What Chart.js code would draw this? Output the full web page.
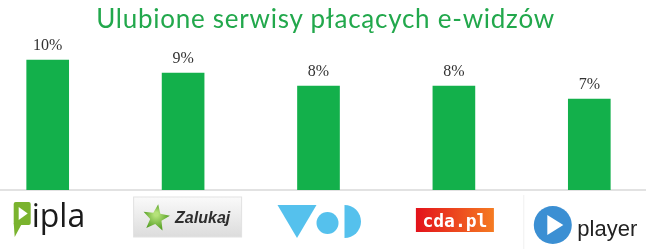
<!DOCTYPE html>
<html>
<head>
<meta charset="utf-8">
<script src="https://cdn.jsdelivr.net/npm/chart.js@4"></script>
<style>
  html, body { margin: 0; padding: 0; background: #fff; overflow: hidden; }
  body { width: 646px; height: 249px; position: relative; }
  #title { position: absolute; left: 0; top: 5px; width: 651px; text-align: center;
           font: 26px/26px Lato, sans-serif; letter-spacing: 0.75px; color: #22a84c; z-index: 2; }
  #wrap { position: absolute; left: -20px; top: 0; width: 677px; height: 249px; }
</style>
</head>
<body>
<div id="title">Ulubione serwisy płacących e-widzów</div>
<div id="wrap"><canvas id="chart"></canvas></div>
<script>
// dane z wykresu
const services = ['ipla', 'Zalukaj', 'VOD', 'cda.pl', 'player'];
const shares = [10, 9, 8, 8, 7];

// etykiety nad słupkami
const valueLabels = {
  id: 'valueLabels',
  afterDatasetsDraw(chart) {
    const ctx = chart.ctx;
    ctx.save();
    ctx.font = '16px "Liberation Serif", serif';
    ctx.fillStyle = '#333';
    ctx.textAlign = 'center';
    ctx.textBaseline = 'alphabetic';
    chart.getDatasetMeta(0).data.forEach((bar, i) => {
      ctx.fillText(shares[i] + '%', bar.x, bar.y - 10);
    });
    ctx.restore();
  }
};

function star(ctx, cx, cy, ro, ri) {
  ctx.beginPath();
  for (let k = 0; k < 10; k++) {
    const r = k % 2 ? ri : ro;
    const a = -Math.PI / 2 + 0.15 + k * Math.PI / 5;
    ctx.lineTo(cx + r * Math.cos(a), cy + r * Math.sin(a));
  }
  ctx.closePath();
}

// logotypy serwisów pod osią
const logos = {
  id: 'logos',
  afterDraw(chart) {
    const ctx = chart.ctx;
    const xs = chart.scales.x;
    ctx.save();
    services.forEach((name, i) => {
      const x = xs.getPixelForValue(i);
      if (name === 'ipla') {
        ctx.fillStyle = '#7ab32e';
        ctx.beginPath();
        ctx.roundRect(x - 34, 202, 17, 23, 2);
        ctx.fill();
        ctx.beginPath();
        ctx.moveTo(x - 34, 223); ctx.lineTo(x - 33, 237); ctx.lineTo(x - 26, 224);
        ctx.fill();
        ctx.fillStyle = '#fff';
        ctx.beginPath();
        ctx.moveTo(x - 29, 207); ctx.lineTo(x - 29, 220); ctx.lineTo(x - 20, 213.5);
        ctx.fill();
        ctx.fillStyle = '#1a1a1a';
        ctx.font = '32px "Open Sans", sans-serif';
        ctx.textAlign = 'left';
        ctx.fillText('ipla', x - 16, 227);
      } else if (name === 'Zalukaj') {
        const g = ctx.createLinearGradient(0, 197, 0, 237);
        g.addColorStop(0, '#fafafa'); g.addColorStop(1, '#dcdcdc');
        ctx.fillStyle = g;
        ctx.fillRect(x - 49.5, 197, 108, 40);
        ctx.strokeStyle = '#e2e2e2';
        ctx.strokeRect(x - 49.5, 197, 108, 40);
        const sg = ctx.createRadialGradient(x - 27, 214, 2, x - 27, 217, 14);
        sg.addColorStop(0, '#b5e27a'); sg.addColorStop(1, '#4e9a1e');
        ctx.fillStyle = sg;
        star(ctx, x - 27, 218, 14, 6);
        ctx.fill();
        ctx.fillStyle = '#2e2e2e';
        ctx.font = 'italic bold 16px "Liberation Sans", sans-serif';
        ctx.textAlign = 'left';
        ctx.fillText('Zalukaj', x - 8, 223);
      } else if (name === 'VOD') {
        ctx.fillStyle = '#55c1ed';
        ctx.beginPath();
        ctx.moveTo(x - 41, 205); ctx.lineTo(x - 2, 205); ctx.lineTo(x - 21.5, 238);
        ctx.fill();
        ctx.beginPath();
        ctx.arc(x + 9, 223, 11, 0, Math.PI * 2);
        ctx.fill();
        ctx.beginPath();
        ctx.arc(x + 26, 221.5, 16.5, -Math.PI / 2, Math.PI / 2);
        ctx.fill();
      } else if (name === 'cda.pl') {
        const g = ctx.createLinearGradient(x - 38, 0, x + 40, 0);
        g.addColorStop(0, '#e3121b'); g.addColorStop(1, '#f57b22');
        ctx.fillStyle = g;
        ctx.fillRect(x - 38, 208, 78, 24);
        ctx.fillStyle = '#fff';
        ctx.font = 'bold 18px "DejaVu Sans Mono", monospace';
        ctx.textAlign = 'center';
        ctx.fillText('cda.pl', x + 1, 227);
      } else if (name === 'player') {
        ctx.strokeStyle = '#f0f0f0';
        ctx.lineWidth = 1;
        ctx.beginPath();
        ctx.moveTo(x - 65.5, 195); ctx.lineTo(x - 65.5, 249);
        ctx.stroke();
        ctx.fillStyle = '#3b8fd3';
        ctx.beginPath();
        ctx.arc(x - 36.5, 225, 19, 0, Math.PI * 2);
        ctx.fill();
        ctx.fillStyle = '#fff';
        ctx.beginPath();
        ctx.moveTo(x - 42, 215); ctx.lineTo(x - 42, 235); ctx.lineTo(x - 26, 225);
        ctx.fill();
        ctx.fillStyle = '#222';
        ctx.font = '22px "Liberation Sans", sans-serif';
        ctx.textAlign = 'left';
        ctx.fillText('player', x - 12, 236);
      }
    });
    ctx.restore();
  }
};

new Chart(document.getElementById('chart'), {
  type: 'bar',
  data: {
    labels: services,
    datasets: [{ label: 'Udział', data: shares, backgroundColor: '#13b04b', barThickness: 42 }]
  },
  options: {
    responsive: true,
    maintainAspectRatio: false,
    animation: false,
    layout: { padding: { top: 34, bottom: 59, left: 0, right: 0 } },
    plugins: { legend: { display: false }, tooltip: { enabled: false }, title: { display: false } },
    scales: {
      x: {
        display: true,
        ticks: { display: false },
        grid: { display: false, drawTicks: false },
        border: { display: true, color: '#e2e2e2', width: 2 }
      },
      y: { display: false, min: 0, max: 12 }
    }
  },
  plugins: [valueLabels, logos]
});
</script>
</body>
</html>
